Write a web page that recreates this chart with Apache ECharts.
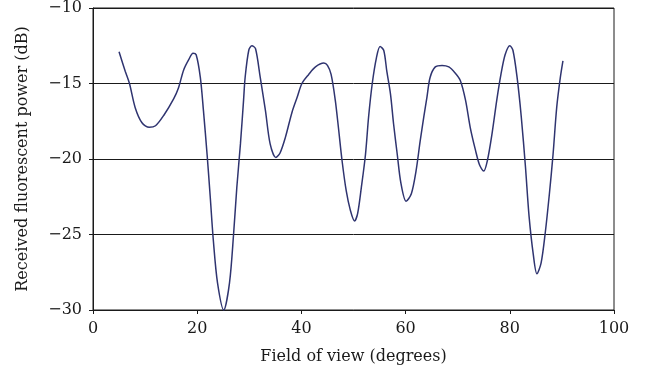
<!DOCTYPE html>
<html>
<head>
<meta charset="utf-8">
<script src="https://cdn.jsdelivr.net/npm/echarts@6/dist/echarts.min.js"></script>
<style>html,body{margin:0;padding:0;background:#fff}#c{width:650px;height:381px}</style>
</head>
<body>
<div id="c"></div>
<script>
const fieldOfView = [5, 6.2, 7.0, 8.1, 9.4, 10.8, 12.0, 13.6, 15.5, 16.4, 17.4, 18.4, 19.2, 19.8, 20.6, 21.2, 21.9, 22.5, 23.1, 23.9, 25.1, 26.2, 27.0, 27.6, 28.3, 28.9, 29.2, 29.9, 30.5, 31.2, 32.1, 33.1, 34.0, 35.1, 35.9, 36.9, 38.2, 39.2, 40.1, 41.4, 42.7, 44.3, 45.0, 45.7, 46.5, 47.1, 47.8, 48.6, 49.4, 50.2, 50.8, 51.5, 52.3, 52.9, 53.6, 54.4, 55.1, 55.8, 56.4, 57.1, 57.7, 58.4, 59.1, 60.1, 61.1, 62.0, 62.8, 63.5, 64.1, 64.7, 65.7, 67.0, 68.3, 69.5, 70.5, 71.5, 72.4, 73.4, 74.2, 75.0, 75.7, 76.6, 77.5, 78.3, 79.1, 80.0, 80.6, 81.4, 82.2, 83.0, 83.7, 84.5, 85.2, 86.0, 86.8, 87.6, 88.3, 89.0, 89.7, 90.2];
const receivedPower = [-12.9, -14.2, -15.0, -16.6, -17.6, -17.9, -17.8, -17.1, -16.0, -15.3, -14.1, -13.4, -13.0, -13.1, -14.6, -16.8, -19.7, -22.5, -25.4, -28.2, -30.0, -28.2, -24.9, -21.9, -19.0, -16.1, -14.6, -12.8, -12.5, -12.7, -14.6, -16.8, -19.0, -19.9, -19.6, -18.6, -16.9, -15.9, -15.0, -14.4, -13.9, -13.65, -13.8, -14.4, -16.1, -17.9, -20.1, -22.1, -23.4, -24.1, -23.6, -21.9, -19.7, -17.2, -15.0, -13.3, -12.55, -12.8, -14.2, -15.7, -17.7, -19.7, -21.6, -22.8, -22.3, -20.8, -18.8, -17.2, -15.9, -14.6, -13.9, -13.8, -13.9, -14.3, -14.8, -16.1, -17.9, -19.4, -20.4, -20.8, -20.1, -18.3, -16.1, -14.4, -13.1, -12.5, -12.8, -14.6, -17.2, -20.5, -23.8, -26.3, -27.6, -26.9, -24.9, -22.3, -19.7, -16.6, -14.6, -13.5];
const xTicks = [0, 20, 40, 60, 80, 100];
const yTicks = [-30, -25, -20, -15, -10];
const xTitle = 'Field of view (degrees)';
const yTitle = 'Received fluorescent power (dB)';

const font = 'DejaVu Serif';
const chart = echarts.init(document.getElementById('c'), null, {renderer: 'canvas'});
chart.setOption({
  animation: false,
  backgroundColor: '#fff',
  grid: {left: 93, right: 36, top: 7, bottom: 71, show: true, borderColor: '#1a1a1a', borderWidth: 1},
  xAxis: {
    type: 'value', min: xTicks[0], max: xTicks[xTicks.length - 1], interval: xTicks[1] - xTicks[0],
    name: xTitle, nameLocation: 'middle', nameGap: 39,
    nameTextStyle: {fontFamily: font, fontSize: 16, color: '#1a1a1a'},
    axisLine: {lineStyle: {color: '#1a1a1a', width: 1}},
    axisTick: {show: true, inside: false, length: 4, lineStyle: {color: '#1a1a1a'}},
    axisLabel: {fontFamily: font, fontSize: 16, color: '#1a1a1a', margin: 11},
    splitLine: {show: false}
  },
  yAxis: {
    type: 'value', min: yTicks[0], max: yTicks[yTicks.length - 1], interval: yTicks[1] - yTicks[0],
    name: yTitle, nameLocation: 'middle', nameGap: 62,
    nameTextStyle: {fontFamily: font, fontSize: 16, color: '#1a1a1a'},
    axisLine: {show: true, lineStyle: {color: '#1a1a1a', width: 1}},
    axisTick: {show: true, inside: false, length: 4, lineStyle: {color: '#1a1a1a'}},
    axisLabel: {fontFamily: font, fontSize: 16, color: '#1a1a1a', margin: 11,
      formatter: v => String(v).replace('-', '\u2212')},
    splitLine: {show: true, lineStyle: {color: '#1a1a1a', width: 1}}
  },
  series: [{
    type: 'line',
    data: fieldOfView.map((x, i) => [x, receivedPower[i]]),
    smooth: 0.3,
    showSymbol: false,
    clip: true,
    lineStyle: {color: '#2f3470', width: 1.5}
  }]
});
</script>
</body>
</html>
